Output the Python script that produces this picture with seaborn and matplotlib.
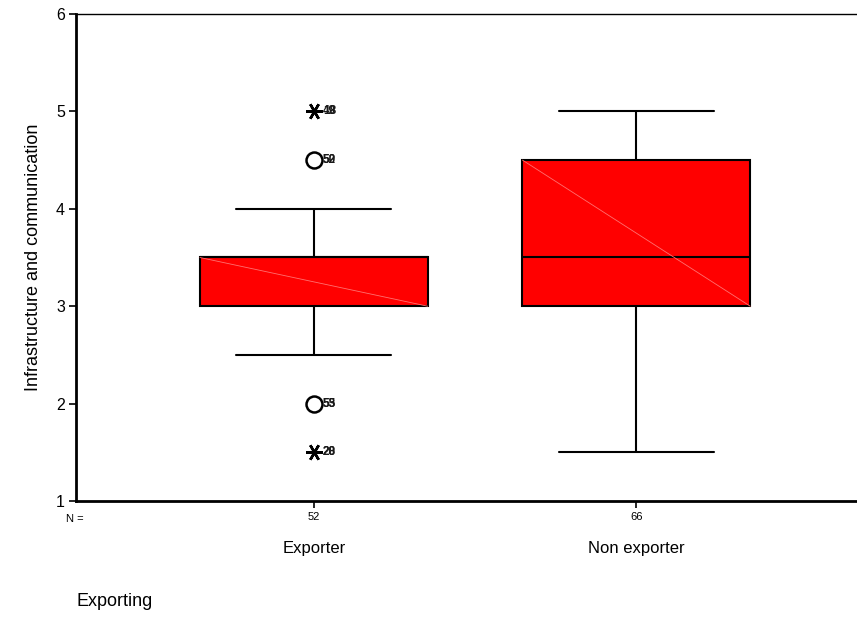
import numpy as np
import pandas as pd
import matplotlib
matplotlib.use("Agg")
import matplotlib.pyplot as plt
import matplotlib.transforms as mtransforms
import seaborn as sns

# Response scores (half-point steps) and how many firms gave each score
scores = [1.5, 2.0, 2.5, 3.0, 3.5, 4.0, 4.5, 5.0]
exporter_counts = [2, 2, 3, 12, 26, 3, 2, 2]        # N = 52
non_exporter_counts = [2, 3, 5, 12, 12, 10, 14, 8]  # N = 66

groups = ["Exporter", "Non exporter"]
# Case numbers printed beside the outlying points of the exporter group
exporter_case_ids = {5.0: ["18", "49"], 4.5: ["50", "52"],
                     2.0: ["53", "55"], 1.5: ["20", "28"]}
case_ids = {"Exporter": exporter_case_ids, "Non exporter": {}}

y_ticks = [1, 2, 3, 4, 5, 6]
y_label = "Infrastructure and communication"
x_title = "Exporting"

rows = []
for grp, counts in zip(groups, [exporter_counts, non_exporter_counts]):
    for s, c in zip(scores, counts):
        rows += [(grp, s)] * c
df = pd.DataFrame(rows, columns=["Exporting", "score"])

sns.set_theme(style="white")
plt.rcParams["font.family"] = ["Liberation Sans", "DejaVu Sans"]
plt.rcParams.update({"text.color": "black", "axes.labelcolor": "black",
                     "xtick.color": "black", "ytick.color": "black"})

fig = plt.figure(figsize=(8.57, 6.19), dpi=100)
ax = fig.add_axes([76 / 857, 1 - 501 / 619, 1 - 76 / 857, (501 - 14) / 619])

sns.boxplot(data=df, x="Exporting", y="score", order=groups, ax=ax,
            width=0.706, whis=1.5, showfliers=False, color="#ff0000",
            saturation=1, linecolor="black", linewidth=1.5,
            boxprops=dict(facecolor="#ff0000", edgecolor="black"),
            capwidths=0.48)

# faint diagonal across each box
for p in list(ax.patches):
    ext = p.get_path().get_extents()
    ax.plot([ext.x0, ext.x1], [ext.y1, ext.y0], color="#ff7070",
            lw=0.6, zorder=p.get_zorder() + 0.1)

# outliers (beyond 1.5 box lengths) and extremes (3 box lengths or more)
for i, grp in enumerate(groups):
    vals = df.loc[df["Exporting"] == grp, "score"].to_numpy()
    q1, q3 = np.percentile(vals, [25, 75])
    iqr = q3 - q1
    outs = np.unique(vals[(vals > q3 + 1.5 * iqr) | (vals < q1 - 1.5 * iqr)])
    for v in outs:
        extreme = (v >= q3 + 3 * iqr) or (v <= q1 - 3 * iqr)
        if extreme:
            ax.plot(i, v, marker=(6, 2, 90), ms=12, mew=1.8,
                    color="black", zorder=5, clip_on=False)
        else:
            ax.plot(i, v, marker="o", ms=11.5, mfc="none", mec="black",
                    mew=1.8, zorder=5, clip_on=False)
        for lab in case_ids[grp].get(v, []):
            ax.annotate(lab, (i, v), xytext=(6.5, 0), textcoords="offset points",
                        ha="left", va="center", fontsize=8.5,
                        fontweight="bold", color="#1a1a1a", zorder=6)

ax.set_xlim(-0.737, 1.684)
ax.set_ylim(1, 6)
ax.set_yticks(y_ticks)
ax.set_yticklabels([str(t) for t in y_ticks], fontsize=11.5)
ax.set_ylabel(y_label, fontsize=13, labelpad=10)
ax.set_xlabel("")

ns = df.groupby("Exporting")["score"].size().reindex(groups)
ax.set_xticks(range(len(groups)))
ax.set_xticklabels([str(n) for n in ns], fontsize=8)
ax.tick_params(axis="both", direction="out", length=5, width=1.2,
               colors="black", bottom=True, left=True, pad=3)

trans = mtransforms.blended_transform_factory(ax.transData, fig.transFigure)
for i, grp in enumerate(groups):
    ax.text(i, 1 - 548 / 619, grp, transform=trans, ha="center",
            va="center", fontsize=12)
fig.text(75 / 857, 1 - 519 / 619, "N =", ha="center", va="center", fontsize=8)
fig.text(77 / 857, 1 - 602 / 619, x_title, ha="left", va="center", fontsize=13)

for side in ["left", "bottom"]:
    ax.spines[side].set_linewidth(2)
    ax.spines[side].set_color("black")
ax.spines["top"].set_linewidth(1)
ax.spines["top"].set_color("black")
ax.spines["right"].set_visible(False)

fig.savefig("out.png", dpi=100)
